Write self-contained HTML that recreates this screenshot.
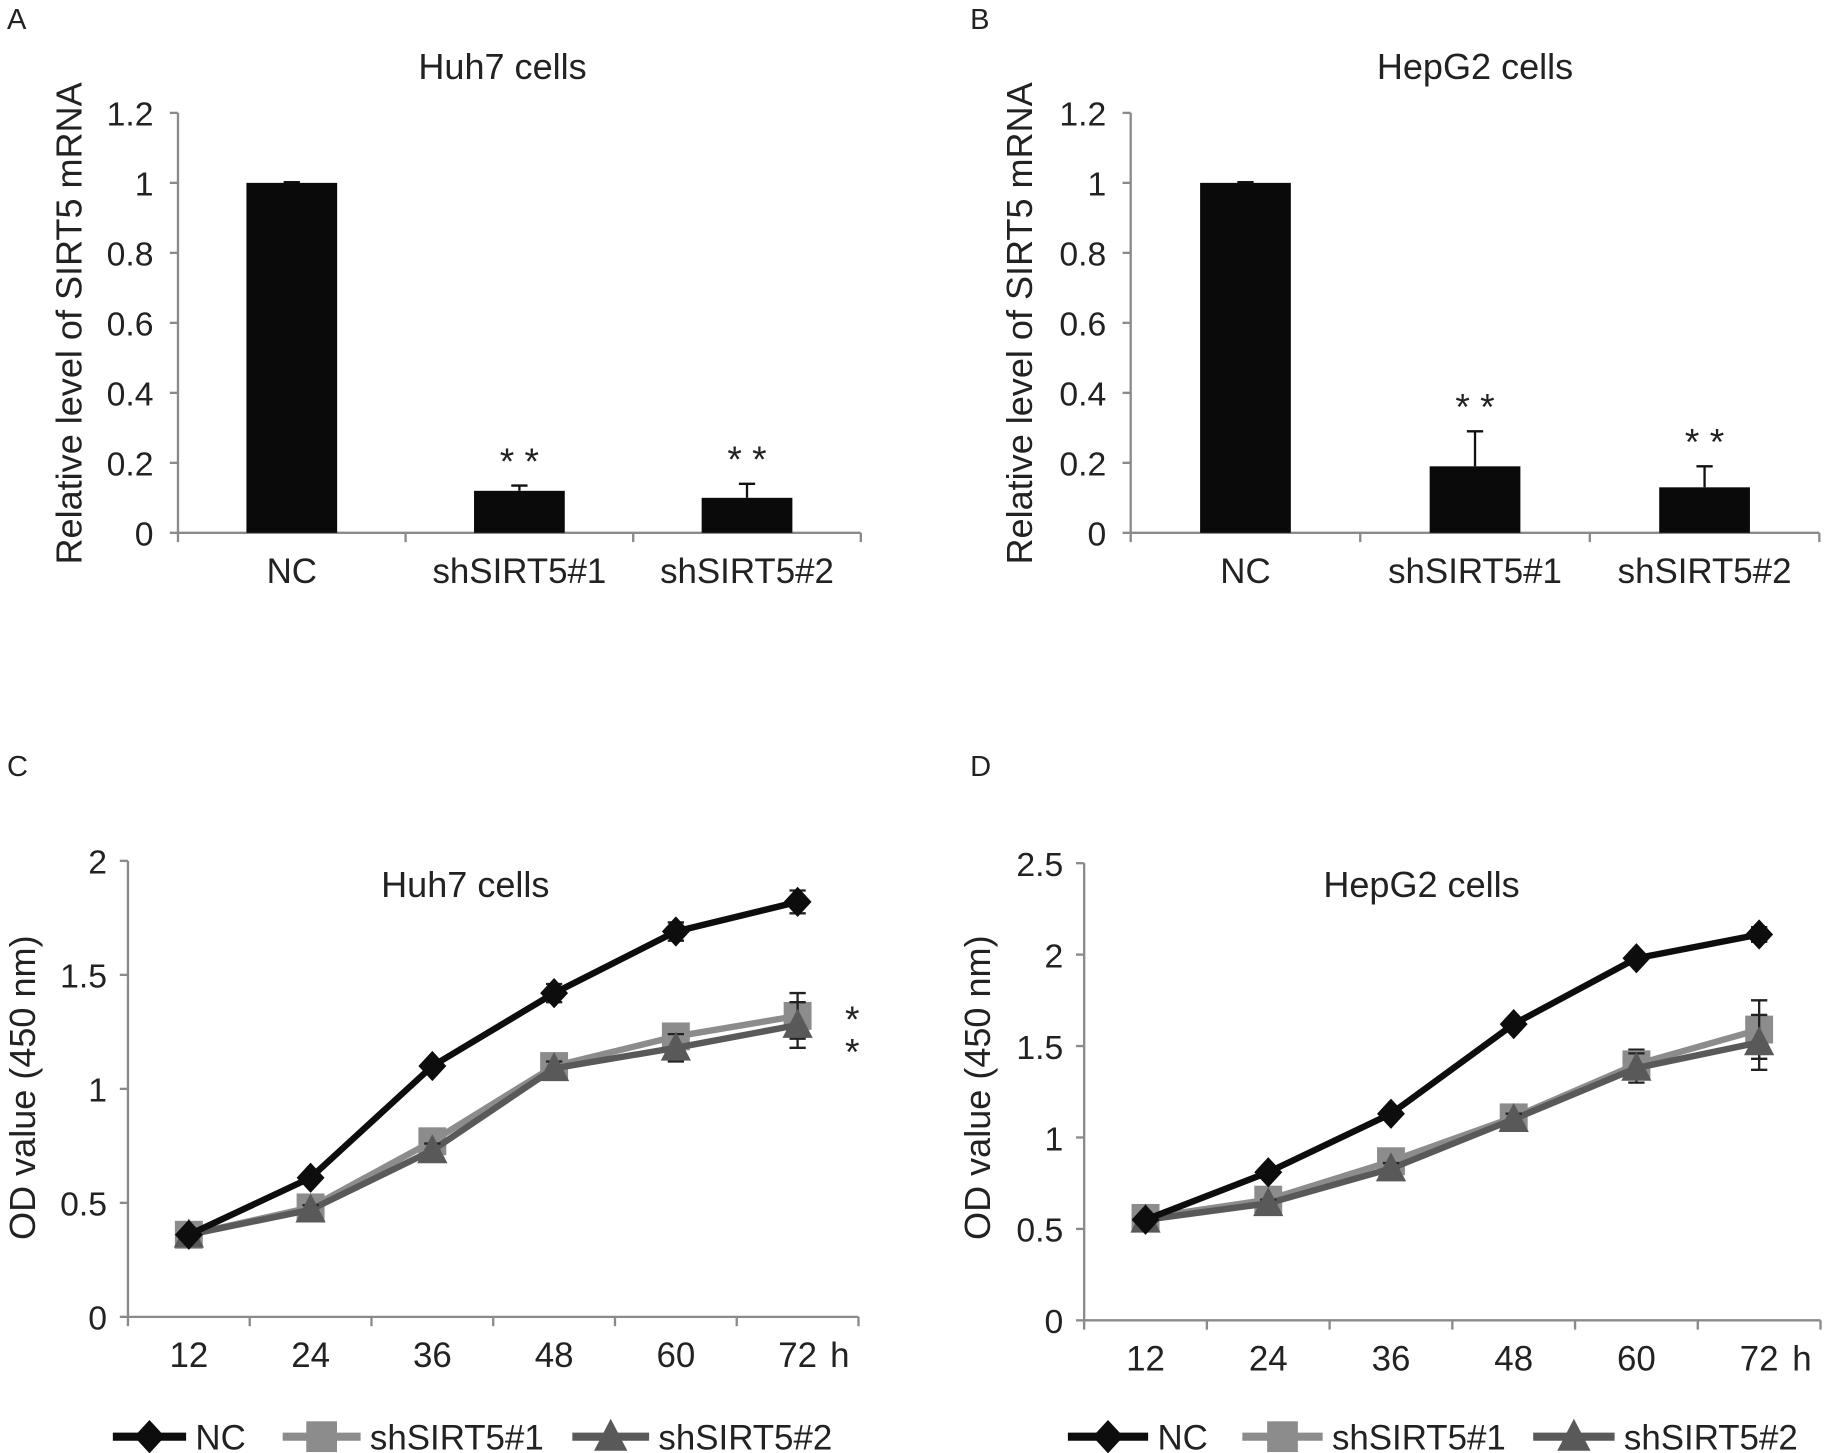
<!DOCTYPE html>
<html><head><meta charset="utf-8"><style>
html,body{margin:0;padding:0;background:#fff}
svg{display:block}
text{font-family:"Liberation Sans",Arial,sans-serif;fill:#222}
</style></head><body>
<svg id="fig" xmlns="http://www.w3.org/2000/svg" width="1824" height="1453" viewBox="0 0 1568 1249"></svg>
<script>
// ---- data ----
const barCategories = ["NC", "shSIRT5#1", "shSIRT5#2"];
const barHuh7 = [1.0, 0.12, 0.10];
const barHuh7Err = [0.002, 0.015, 0.04];
const barHepG2 = [1.0, 0.19, 0.13];
const barHepG2Err = [0.002, 0.10, 0.06];
const barTicks = [0, 0.2, 0.4, 0.6, 0.8, 1, 1.2];
const barTickLabels = ["0", "0.2", "0.4", "0.6", "0.8", "1", "1.2"];

const timeLabels = ["12", "24", "36", "48", "60", "72"];
const huh7NC = [0.36, 0.61, 1.10, 1.42, 1.69, 1.82];
const huh7Sh1 = [0.36, 0.48, 0.77, 1.10, 1.23, 1.32];
const huh7Sh2 = [0.36, 0.47, 0.73, 1.09, 1.18, 1.28];
const huh7NCErr = [0.01, 0.02, 0.02, 0.04, 0.04, 0.05];
const huh7Sh1Err = [0.01, 0.02, 0.03, 0.03, 0.04, 0.10];
const huh7Sh2Err = [0.01, 0.02, 0.03, 0.03, 0.06, 0.10];
const huh7Ticks = [0, 0.5, 1, 1.5, 2];
const huh7TickLabels = ["0", "0.5", "1", "1.5", "2"];

const hepNC = [0.55, 0.81, 1.13, 1.62, 1.98, 2.11];
const hepSh1 = [0.56, 0.66, 0.87, 1.11, 1.40, 1.59];
const hepSh2 = [0.55, 0.64, 0.83, 1.10, 1.38, 1.52];
const hepNCErr = [0.01, 0.02, 0.02, 0.03, 0.03, 0.04];
const hepSh1Err = [0.01, 0.02, 0.03, 0.03, 0.08, 0.16];
const hepSh2Err = [0.01, 0.02, 0.03, 0.03, 0.08, 0.15];
const hepTicks = [0, 0.5, 1, 1.5, 2, 2.5];
const hepTickLabels = ["0", "0.5", "1", "1.5", "2", "2.5"];

const seriesNames = ["NC", "shSIRT5#1", "shSIRT5#2"];

// ---- helpers ----
const NS = "http://www.w3.org/2000/svg";
const svg = document.getElementById("fig");
function el(tag, attrs, parent) {
  const e = document.createElementNS(NS, tag);
  for (const k in attrs) e.setAttribute(k, attrs[k]);
  (parent || svg).appendChild(e);
  return e;
}
function txt(x, y, s, size, anchor, parent, extra) {
  const t = el("text", Object.assign({x: x, y: y, "font-size": size, "text-anchor": anchor || "middle"}, extra || {}), parent);
  t.textContent = s;
  return t;
}
const AX = "#8a8a8a";
const TF = 30;

function panelLabel(x, y, s) {
  const t = txt(x, y, s, 25, "start");
  
  
}

function barChart(cfg) {
  const g = el("g", {});
  
  
  const y = v => cfg.y0 - (v / 1.2) * (cfg.y0 - cfg.y1);
  const n = barCategories.length;
  const step = (cfg.x1 - cfg.x0) / n;
  const cx = i => cfg.x0 + step * (i + 0.5);
  const ya = el("line", {x1: cfg.x0, y1: y(1.2), x2: cfg.x0, y2: y(0), stroke: AX, "stroke-width": 2}, g);
  
  
  const xa = el("line", {x1: cfg.x0, y1: y(0), x2: cfg.x1, y2: y(0), stroke: AX, "stroke-width": 2}, g);
  
  
  barTicks.forEach((v, i) => {
    el("line", {x1: cfg.x0 - 7, y1: y(v), x2: cfg.x0, y2: y(v), stroke: AX, "stroke-width": 2}, g);
    const t = txt(cfg.x0 - 21, y(v) + 11, barTickLabels[i], 29, "end", g);
    
    
  });
  for (let i = 0; i <= n; i++) {
    el("line", {x1: cfg.x0 + step * i, y1: y(0), x2: cfg.x0 + step * i, y2: y(0) + 8, stroke: AX, "stroke-width": 2}, g);
  }
  barCategories.forEach((c, i) => {
    const bw = 78;
    const b = el("rect", {x: cx(i) - bw / 2, y: y(cfg.vals[i]), width: bw, height: y(0) - y(cfg.vals[i]), fill: "#0a0a0a"}, g);
    
    
    const top = y(cfg.vals[i] + cfg.errs[i]);
    el("line", {x1: cx(i), y1: y(cfg.vals[i]), x2: cx(i), y2: top, stroke: "#111", "stroke-width": 2}, g);
    el("line", {x1: cx(i) - 7, y1: top, x2: cx(i) + 7, y2: top, stroke: "#111", "stroke-width": 2}, g);
    const t = txt(cx(i), y(0) + 43, c, TF, "middle", g);
    
    
    if (i > 0) {
      const s = txt(cx(i), top - 10, cfg.stars[i], 32, "middle", g, {fill: "#555", "xml:space": "preserve"});
      
      
    }
  });
  const tt = txt(cfg.titleX, 68, cfg.title, 31, "middle", g);
  
  
  const yl = txt(0, 0, "Relative level of SIRT5 mRNA", 31, "middle", g, {transform: "translate(" + cfg.ylX + ",278) rotate(-90)"});
  
  
}

function marker(kind, x, y, color, parent, sc) {
  sc = sc || 1;
  let m;
  if (kind === 0) m = el("polygon", {points: x + "," + (y - 13 * sc) + " " + (x + 12 * sc) + "," + y + " " + x + "," + (y + 13 * sc) + " " + (x - 12 * sc) + "," + y, fill: color}, parent);
  else if (kind === 1) m = el("rect", {x: x - 12 * sc, y: y - 12 * sc, width: 24 * sc, height: 24 * sc, fill: color}, parent);
  else m = el("polygon", {points: x + "," + (y - 14 * sc) + " " + (x + 13 * sc) + "," + (y + 11 * sc) + " " + (x - 13 * sc) + "," + (y + 11 * sc), fill: color}, parent);
  return m;
}

function lineChart(cfg) {
  const g = el("g", {});
  
  
  const ymax = cfg.ticks[cfg.ticks.length - 1];
  const y = v => cfg.y0 - (v / ymax) * (cfg.y0 - cfg.y1);
  const n = timeLabels.length;
  const step = (cfg.x1 - cfg.x0) / n;
  const cx = i => cfg.x0 + step * (i + 0.5);
  const ya = el("line", {x1: cfg.x0, y1: y(ymax), x2: cfg.x0, y2: y(0), stroke: AX, "stroke-width": 2}, g);
  
  
  const xa = el("line", {x1: cfg.x0, y1: y(0), x2: cfg.x1, y2: y(0), stroke: AX, "stroke-width": 2}, g);
  
  
  cfg.ticks.forEach((v, i) => {
    el("line", {x1: cfg.x0 - 7, y1: y(v), x2: cfg.x0, y2: y(v), stroke: AX, "stroke-width": 2}, g);
    const t = txt(cfg.x0 - 18, y(v) + 11, cfg.tickLabels[i], 29, "end", g);
    
    
  });
  for (let i = 0; i <= n; i++) {
    el("line", {x1: cfg.x0 + step * i, y1: y(0), x2: cfg.x0 + step * i, y2: y(0) + 8, stroke: AX, "stroke-width": 2}, g);
  }
  timeLabels.forEach((c, i) => {
    const t = txt(cx(i), y(0) + 43, c, TF, "middle", g);
    
    
  });
  const h = txt(cfg.x1 - 16, y(0) + 43, "h", TF, "middle", g);
  
  
  const colors = ["#0d0d0d", "#8c8c8c", "#595959"];
  const series = [cfg.nc, cfg.sh1, cfg.sh2];
  const errs = [cfg.ncErr, cfg.sh1Err, cfg.sh2Err];
  [1, 2, 0].forEach(s => {
    const sg = el("g", {}, g);
    
    
    const pts = series[s].map((v, i) => cx(i) + "," + y(v)).join(" ");
    el("polyline", {points: pts, fill: "none", stroke: colors[s], "stroke-width": 5.5, "stroke-linejoin": "round"}, sg);
    series[s].forEach((v, i) => {
      const lo = y(v - errs[s][i]), hi = y(v + errs[s][i]);
      el("line", {x1: cx(i), y1: lo, x2: cx(i), y2: hi, stroke: "#222", "stroke-width": 2}, sg);
      el("line", {x1: cx(i) - 7, y1: lo, x2: cx(i) + 7, y2: lo, stroke: "#222", "stroke-width": 2}, sg);
      el("line", {x1: cx(i) - 7, y1: hi, x2: cx(i) + 7, y2: hi, stroke: "#222", "stroke-width": 2}, sg);
      const m = marker(s, cx(i), y(v), colors[s], sg);
      
      
    });
  });
  if (cfg.stars) {
    const s1 = txt(cx(5) + 47, y(cfg.sh1[5]) + 14, "*", 32, "middle", g, {fill: "#555"});
    
    
    const s2 = txt(cx(5) + 47, y(cfg.sh2[5]) + 34, "*", 32, "middle", g, {fill: "#555"});
    
    
  }
  const tt = txt(cfg.titleX, 771, cfg.title, 31, "middle", g);
  
  
  const yl = txt(0, 0, "OD value (450 nm)", 31, "middle", g, {transform: "translate(" + cfg.ylX + ",935) rotate(-90)"});
  
  
  const lg = el("g", {}, g);
  
  
  const LY = 1235;
  cfg.legend.forEach((L, s) => {
    const eg = el("g", {}, lg);
    
    
    el("line", {x1: L[0], y1: LY, x2: L[1], y2: LY, stroke: colors[s], "stroke-width": 7}, eg);
    marker(s, (L[0] + L[1]) / 2, LY, colors[s], eg, 1.1);
    txt(L[1] + 8, LY + 11, seriesNames[s], TF, "start", eg);
  });
}

panelLabel(6, 25, "A");
panelLabel(834, 25, "B");
panelLabel(6, 667, "C");
panelLabel(834, 667, "D");

barChart({name: "chart-a-huh7-mrna", x0: 153, x1: 740, y0: 458, y1: 97, vals: barHuh7, errs: barHuh7Err,
  stars: ["", "*   *", "*    *"], title: "Huh7 cells", titleX: 432, ylX: 70});
barChart({name: "chart-b-hepg2-mrna", x0: 972, x1: 1564, y0: 458, y1: 97, vals: barHepG2, errs: barHepG2Err,
  stars: ["", "*   *", "*   *"], title: "HepG2 cells", titleX: 1268, ylX: 887});

lineChart({name: "chart-c-huh7-od", x0: 110, x1: 738, y0: 1132, y1: 740, ticks: huh7Ticks, tickLabels: huh7TickLabels,
  nc: huh7NC, sh1: huh7Sh1, sh2: huh7Sh2, ncErr: huh7NCErr, sh1Err: huh7Sh1Err, sh2Err: huh7Sh2Err,
  stars: true, title: "Huh7 cells", titleX: 400, ylX: 30,
  legend: [[97, 160], [243, 310], [492, 558]]});
lineChart({name: "chart-d-hepg2-od", x0: 932, x1: 1565, y0: 1135, y1: 742, ticks: hepTicks, tickLabels: hepTickLabels,
  nc: hepNC, sh1: hepSh1, sh2: hepSh2, ncErr: hepNCErr, sh1Err: hepSh1Err, sh2Err: hepSh2Err,
  stars: false, title: "HepG2 cells", titleX: 1222, ylX: 851,
  legend: [[918, 987], [1068, 1137], [1318, 1388]]});
</script>
</body></html>
